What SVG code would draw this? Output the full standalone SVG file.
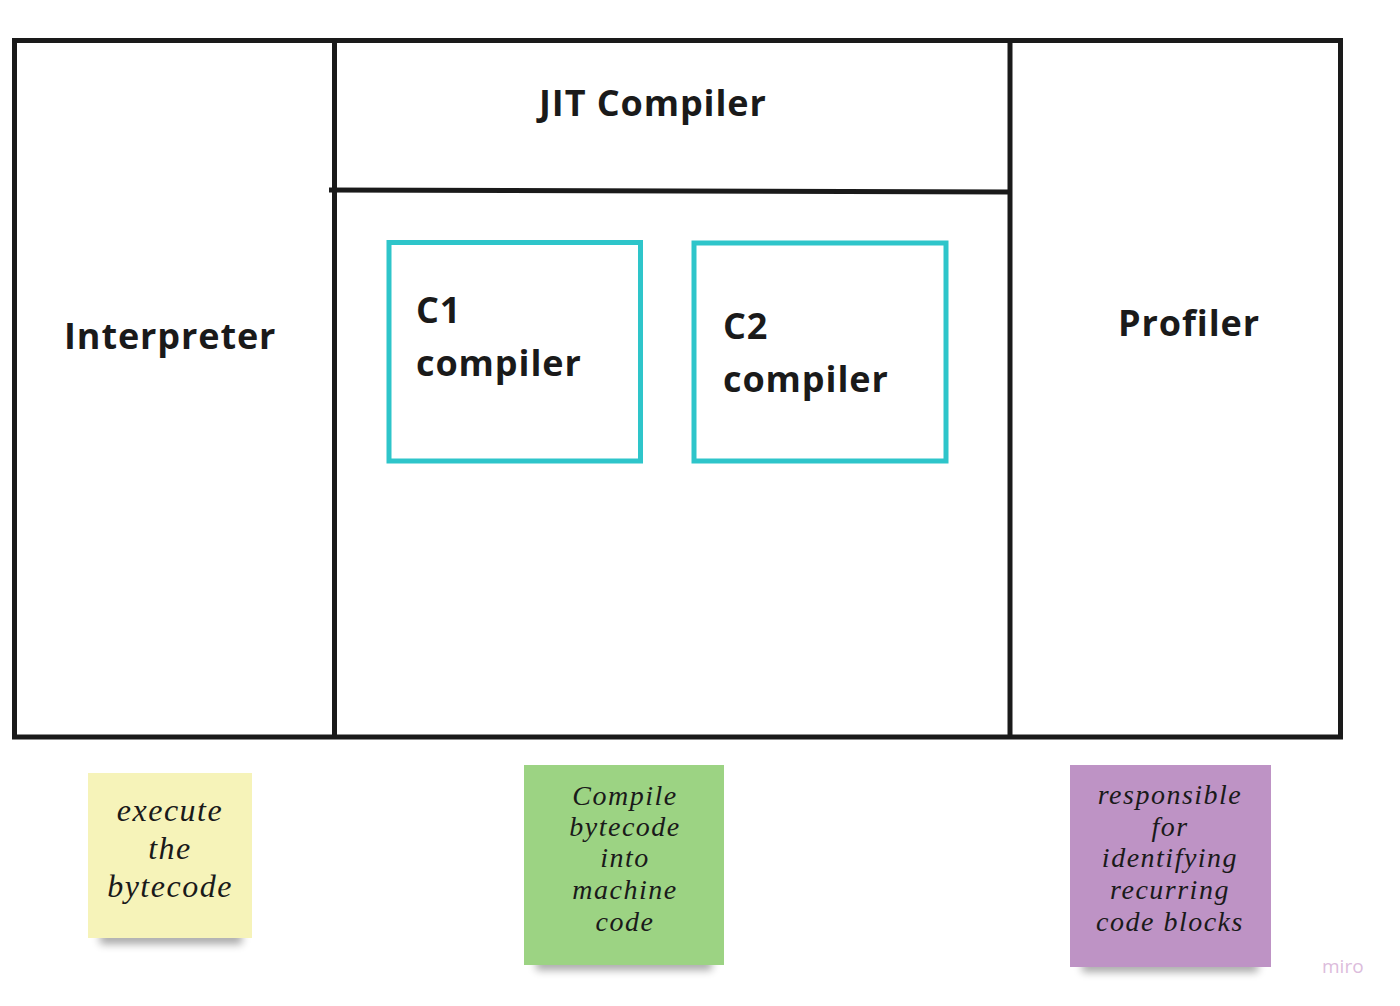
<svg xmlns="http://www.w3.org/2000/svg" width="1400" height="1006" viewBox="0 0 1400 1006">
<style>
.frame{fill:none;stroke:#1a1a1a;stroke-width:5}
.box{fill:#fff;stroke:#2ec5ca;stroke-width:5}
.lbl{font-family:"Open Sans","Noto Sans","Liberation Sans",sans-serif;font-weight:700;font-size:36px;fill:#1a1a1a;letter-spacing:0.9px}
.hand{font-family:"Liberation Serif","DejaVu Serif",serif;font-style:italic;fill:#1a1a1a;text-anchor:middle;letter-spacing:1.5px}
.shadow{fill:#000;opacity:0.35}
</style>
<defs>
<filter id="blur" x="-20%" y="-100%" width="140%" height="300%"><feGaussianBlur stdDeviation="4"/></filter>
</defs>
<rect width="1400" height="1006" fill="#fff"/>
<g id="frame">
<rect class="frame" x="14.5" y="40.5" width="1326" height="696.5"/>
</g>
<g id="connectors">
<line class="frame" x1="334.5" y1="40" x2="334.5" y2="737"/>
<line class="frame" x1="1010" y1="40" x2="1010" y2="737"/>
<line class="frame" x1="329" y1="190" x2="1010" y2="192"/>
</g>
<g id="interpreter"><text class="lbl" x="64" y="349">Interpreter</text></g>
<g id="jit"><text class="lbl" x="539" y="116">JIT Compiler</text></g>
<g id="profiler"><text class="lbl" x="1118" y="336">Profiler</text></g>
<g id="c1">
<rect class="box" x="389" y="242.5" width="251.5" height="218.5"/>
<text class="lbl" x="416" y="323">C1</text>
<text class="lbl" x="416" y="376">compiler</text>
</g>
<g id="c2">
<rect class="box" x="694" y="243" width="252" height="218"/>
<text class="lbl" x="723" y="339">C2</text>
<text class="lbl" x="723" y="392">compiler</text>
</g>
<g id="note1">
<rect class="shadow" x="100" y="932" width="142" height="12" filter="url(#blur)"/>
<rect x="88" y="773" width="164" height="165" fill="#f6f3b9"/>
<text class="hand" font-size="32" letter-spacing="2"><tspan x="170" y="821">execute</tspan><tspan x="170" y="859">the</tspan><tspan x="170" y="897">bytecode</tspan></text>
</g>
<g id="note2">
<rect class="shadow" x="536" y="958" width="176" height="12" filter="url(#blur)"/>
<rect x="524" y="765" width="200" height="200" fill="#9cd383"/>
<text class="hand" font-size="28"><tspan x="625" y="805">Compile</tspan><tspan x="625" y="836">bytecode</tspan><tspan x="625" y="867">into</tspan><tspan x="625" y="899">machine</tspan><tspan x="625" y="931">code</tspan></text>
</g>
<g id="note3">
<rect class="shadow" x="1082" y="960" width="176" height="12" filter="url(#blur)"/>
<rect x="1070" y="765" width="201" height="202" fill="#be93c5"/>
<text class="hand" font-size="28"><tspan x="1170" y="804">responsible</tspan><tspan x="1170" y="836">for</tspan><tspan x="1170" y="867">identifying</tspan><tspan x="1170" y="899">recurring</tspan><tspan x="1170" y="931">code blocks</tspan></text>
</g>
<text x="1322" y="973" font-family="'Open Sans','Noto Sans',sans-serif" font-size="19" fill="#dcbcdc">miro</text>
</svg>
